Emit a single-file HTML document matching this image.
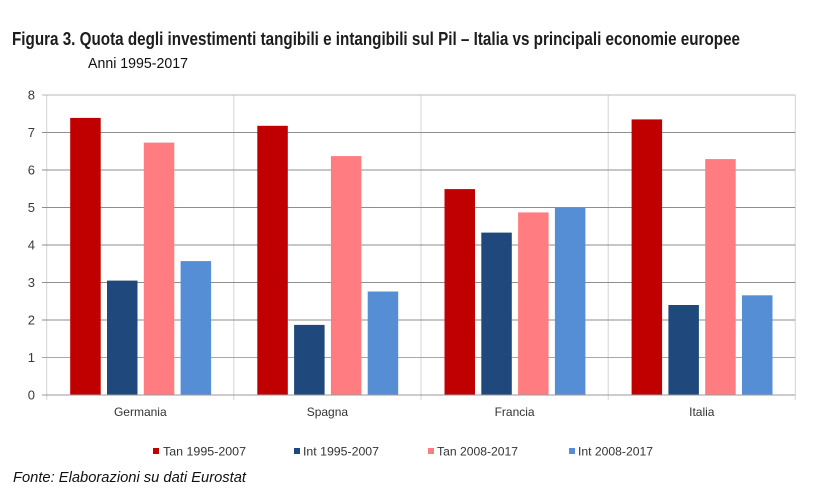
<!DOCTYPE html>
<html>
<head>
<meta charset="utf-8">
<style>
html,body{margin:0;padding:0;background:#fff;}
svg{display:block;}
text{font-family:"Liberation Sans",Arial,sans-serif;}
</style>
</head>
<body>
<svg width="822" height="502" viewBox="0 0 822 502" xmlns="http://www.w3.org/2000/svg">
<rect width="822" height="502" fill="#fff"/>
<!-- Title -->
<text x="12" y="45" font-size="18" font-weight="bold" fill="#1e1c1c" textLength="728" lengthAdjust="spacingAndGlyphs">Figura 3. Quota degli investimenti tangibili e intangibili sul Pil – Italia vs principali economie europee</text>
<text x="88" y="68" font-size="15" fill="#111" textLength="100" lengthAdjust="spacingAndGlyphs">Anni 1995-2017</text>

<!-- vertical separators -->
<g stroke="#d4d4d4" stroke-width="1">
<line x1="46.7" y1="95" x2="46.7" y2="400"/>
<line x1="233.8" y1="95" x2="233.8" y2="400"/>
<line x1="421" y1="95" x2="421" y2="400"/>
<line x1="608.2" y1="95" x2="608.2" y2="400"/>
<line x1="795.3" y1="95" x2="795.3" y2="400"/>
</g>
<!-- horizontal gridlines -->
<g stroke="#8e8e8e" stroke-width="1">
<line x1="42" y1="132.5" x2="795.3" y2="132.5"/>
<line x1="42" y1="170" x2="795.3" y2="170"/>
<line x1="42" y1="207.5" x2="795.3" y2="207.5"/>
<line x1="42" y1="245" x2="795.3" y2="245"/>
<line x1="42" y1="282.5" x2="795.3" y2="282.5"/>
<line x1="42" y1="320" x2="795.3" y2="320"/>
<line x1="42" y1="357.5" x2="795.3" y2="357.5" stroke="#a8a8a8"/>
</g>
<line x1="42" y1="95" x2="795.3" y2="95" stroke="#b8b8b8" stroke-width="1"/>

<!-- bars -->
<g>
<!-- Germania -->
<rect x="70.2" y="117.9" width="30.5" height="277.1" fill="#C00000"/>
<rect x="107" y="280.6" width="30.5" height="114.4" fill="#1F497D"/>
<rect x="143.8" y="142.6" width="30.5" height="252.4" fill="#FF7C80"/>
<rect x="180.6" y="261.1" width="30.5" height="133.9" fill="#558ED5"/>
<!-- Spagna -->
<rect x="257.3" y="125.8" width="30.5" height="269.2" fill="#C00000"/>
<rect x="294.1" y="324.9" width="30.5" height="70.1" fill="#1F497D"/>
<rect x="330.9" y="156.1" width="30.5" height="238.9" fill="#FF7C80"/>
<rect x="367.7" y="291.5" width="30.5" height="103.5" fill="#558ED5"/>
<!-- Francia -->
<rect x="444.5" y="189.1" width="30.5" height="205.9" fill="#C00000"/>
<rect x="481.3" y="232.6" width="30.5" height="162.4" fill="#1F497D"/>
<rect x="518.1" y="212.4" width="30.5" height="182.6" fill="#FF7C80"/>
<rect x="554.9" y="207.9" width="30.5" height="187.1" fill="#558ED5"/>
<!-- Italia -->
<rect x="631.6" y="119.4" width="30.5" height="275.6" fill="#C00000"/>
<rect x="668.4" y="305" width="30.5" height="90" fill="#1F497D"/>
<rect x="705.2" y="159.1" width="30.5" height="235.9" fill="#FF7C80"/>
<rect x="742" y="295.3" width="30.5" height="99.7" fill="#558ED5"/>
</g>

<!-- x axis -->
<line x1="42" y1="395" x2="795.3" y2="395" stroke="#9a9a9a" stroke-width="1"/>

<!-- y tick labels -->
<g font-size="13" fill="#3a3a3a" text-anchor="end">
<text x="35" y="99.5">8</text>
<text x="35" y="137">7</text>
<text x="35" y="174.5">6</text>
<text x="35" y="212">5</text>
<text x="35" y="249.5">4</text>
<text x="35" y="287">3</text>
<text x="35" y="324.5">2</text>
<text x="35" y="362">1</text>
<text x="35" y="399.5">0</text>
</g>

<!-- category labels -->
<g font-size="12" fill="#333" text-anchor="middle">
<text x="140.3" y="416">Germania</text>
<text x="327.4" y="416">Spagna</text>
<text x="514.6" y="416">Francia</text>
<text x="701.8" y="416">Italia</text>
</g>

<!-- legend -->
<rect x="153" y="448" width="6" height="6" fill="#C00000"/>
<text x="163" y="455.5" font-size="12" fill="#333" textLength="83" lengthAdjust="spacingAndGlyphs">Tan 1995-2007</text>
<rect x="294" y="448" width="6" height="6" fill="#1F497D"/>
<text x="303" y="455.5" font-size="12" fill="#333" textLength="76" lengthAdjust="spacingAndGlyphs">Int 1995-2007</text>
<rect x="428" y="448" width="6" height="6" fill="#FF7C80"/>
<text x="437" y="455.5" font-size="12" fill="#333" textLength="81" lengthAdjust="spacingAndGlyphs">Tan 2008-2017</text>
<rect x="569" y="448" width="6" height="6" fill="#558ED5"/>
<text x="578" y="455.5" font-size="12" fill="#333" textLength="75" lengthAdjust="spacingAndGlyphs">Int 2008-2017</text>

<!-- footer -->
<text x="13" y="482" font-size="14.5" font-style="italic" fill="#111" textLength="233" lengthAdjust="spacingAndGlyphs">Fonte: Elaborazioni su dati Eurostat</text>
</svg>
</body>
</html>
